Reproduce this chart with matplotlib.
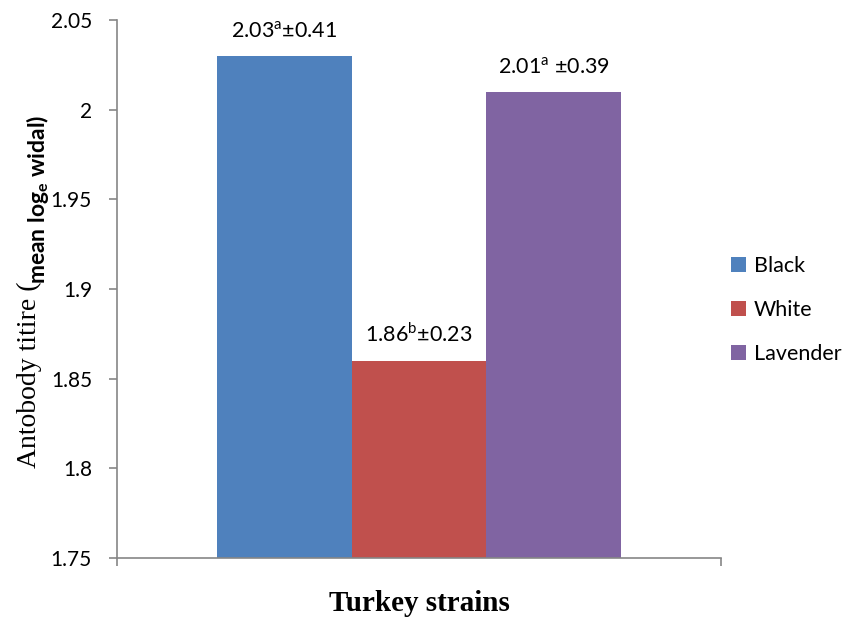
import matplotlib.pyplot as plt

# data
strains = ['Black', 'White', 'Lavender']
means = [2.03, 1.86, 2.01]
sds = [0.41, 0.23, 0.39]
letters = ['a', 'b', 'a']
seps = ['', '', ' ']
colors = ['#4F81BD', '#C0504D', '#8064A2']
yticks = [1.75, 1.8, 1.85, 1.9, 1.95, 2, 2.05]
ytick_labels = ['1.75', '1.8', '1.85', '1.9', '1.95', '2', '2.05']

plt.rcParams['mathtext.fontset'] = 'custom'
plt.rcParams['mathtext.rm'] = 'Lato'
plt.rcParams['mathtext.bf'] = 'Lato:bold'

fig = plt.figure(figsize=(8.47, 6.18), dpi=100)
ax = fig.add_axes([117 / 847, 60 / 618, 604 / 847, 538 / 618])

w = 0.2235
for i, (s, m, sd, l, c) in enumerate(zip(strains, means, sds, letters, colors)):
    x = (i - 1) * w
    ax.bar(x, m - 1.75, width=w, bottom=1.75, color=c, label=s)
    ax.text(x, m + 0.008, f'{m:.2f}$^\\mathregular{{{l}}}${seps[i]}±{sd:.2f}',
            ha='center', va='bottom', fontsize=15.5, family='Lato')

ax.set_xlim(-0.5, 0.5)
ax.set_ylim(1.75, 2.05)
ax.set_yticks(yticks)
ax.set_yticklabels(ytick_labels, family='Lato', fontsize=15)
ax.set_xticks([-0.5, 0.5])
ax.set_xticklabels([])
ax.tick_params(axis='both', direction='out', length=6, color='#868686', width=1.2)
ax.tick_params(axis='y', pad=12)
for sp in ['top', 'right']:
    ax.spines[sp].set_visible(False)
for sp in ['left', 'bottom']:
    ax.spines[sp].set_color('#868686')
    ax.spines[sp].set_linewidth(1.2)

leg = ax.legend(loc='center left', bbox_to_anchor=(0.985, 0.461), frameon=False,
                prop={'family': 'Lato', 'size': 15.5}, handlelength=0.7,
                handleheight=0.7, handletextpad=0.35, labelspacing=1.12)

fig.text(36 / 847, (618 - 468) / 618, 'Antobody titire (', rotation=90,
         rotation_mode='anchor', ha='left', va='baseline',
         family='Liberation Serif', fontsize=20)
fig.text(45 / 847, (618 - 284) / 618, r'mean log$_\mathbf{e}$ widal)', rotation=90,
         rotation_mode='anchor', ha='left', va='baseline',
         family='Lato', fontweight='bold', fontsize=16.5)

ax.set_xlabel('Turkey strains', family='Liberation Serif', fontweight='bold',
              fontsize=21, va='center')
ax.xaxis.set_label_coords(0.5, -0.084)

fig.savefig('out.png', dpi=100)
